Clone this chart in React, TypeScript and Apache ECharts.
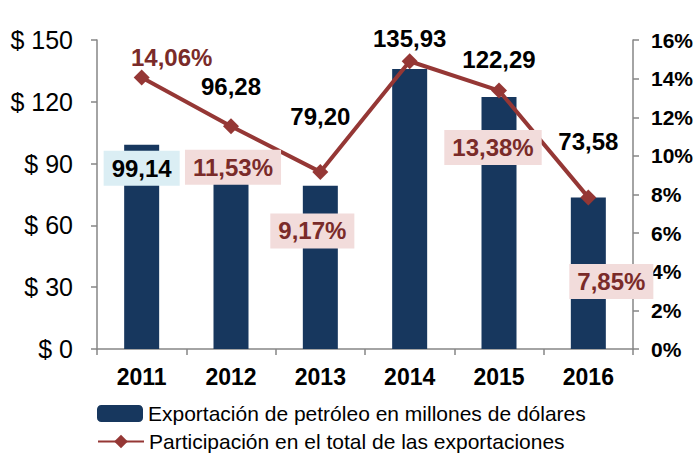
import React, { useEffect, useRef } from "react";
import * as echarts from "echarts";

const years = ["2011", "2012", "2013", "2014", "2015", "2016"];
const exportsUSD = [99.14, 96.28, 79.2, 135.93, 122.29, 73.58];
const shares = [14.06, 11.53, 9.17, 14.9, 13.38, 7.85];
const shareLabels = ["14,06%", "11,53%", "9,17%", "", "13,38%", "7,85%"];
const leftTicks = ["$ 0", "$ 30", "$ 60", "$ 90", "$ 120", "$ 150"];
const seriesNames = [
  "Exportación de petróleo en millones de dólares",
  "Participación en el total de las exportaciones",
];

// label placement (pixels)
const barLabelOffsets = [[0, 46], [0, -47], [0, -52], [0, -13], [0, -21], [0, -39]];
const lineLabelOffsets = [[30, -20], [2, 41], [-8, 59], [0, 0], [-6, 57], [23, 84]];
const lineLabelBoxed = [false, true, true, false, true, true];

const FONT = "'Liberation Sans', Arial, sans-serif";
const BAR = "#17375E";
const LINE = "#953735";
const LABEL_RED = "#7A2B29";

export default function App() {
  const ref = useRef<HTMLDivElement>(null);
  useEffect(() => {
    if (!ref.current) return;
    const chart = echarts.init(ref.current, undefined, { renderer: "svg" });
    const fmt = (v: number) => v.toFixed(2).replace(".", ",");
    const legendBase = {
      left: 97,
      itemWidth: 46,
      itemHeight: 17,
      textStyle: { fontFamily: FONT, fontSize: 21, color: "#000" },
      padding: 0,
    };
    chart.setOption({
      animation: false,
      textStyle: { fontFamily: FONT },
      grid: {
        left: 97,
        right: 62,
        top: 40,
        bottom: 108,
        containLabel: false,
        outerBoundsMode: "none",
      },
      legend: [
        { ...legendBase, top: 403, data: [seriesNames[0]] },
        { ...legendBase, top: 431, data: [seriesNames[1]] },
      ],
      xAxis: {
        type: "category",
        data: years,
        axisLine: { lineStyle: { color: "#868686", width: 1.5 } },
        axisTick: { show: true, length: 6, lineStyle: { color: "#868686", width: 1.5 } },
        axisLabel: { fontFamily: FONT, fontSize: 23, fontWeight: "bold", color: "#000", margin: 16 },
      },
      yAxis: [
        {
          type: "value",
          min: 0,
          max: 150,
          interval: 30,
          splitLine: { show: false },
          axisLine: { show: true, lineStyle: { color: "#868686", width: 1.5 } },
          axisTick: { show: true, length: 6, lineStyle: { color: "#868686", width: 1.5 } },
          axisLabel: {
            fontFamily: FONT,
            fontSize: 25,
            color: "#000",
            margin: 24,
            formatter: (v: number) => leftTicks[Math.round(v / 30)],
          },
        },
        {
          type: "value",
          min: 0,
          max: 16,
          interval: 2,
          position: "right",
          splitLine: { show: false },
          axisLine: { show: true, lineStyle: { color: "#868686", width: 1.5 } },
          axisTick: { show: true, length: 6, lineStyle: { color: "#868686", width: 1.5 } },
          axisLabel: {
            fontFamily: FONT,
            fontSize: 21,
            fontWeight: "bold",
            color: "#000",
            margin: 18,
            formatter: (v: number) => v + "%",
          },
        },
      ],
      series: [
        {
          name: seriesNames[0],
          type: "bar",
          barWidth: 35,
          itemStyle: { color: BAR },
          data: exportsUSD.map((v, i) => ({
            value: v,
            label: {
              show: true,
              position: "top",
              offset: barLabelOffsets[i],
              formatter: fmt(v),
              fontFamily: FONT,
              fontSize: 24,
              fontWeight: "bold",
              color: "#000",
              backgroundColor: i === 0 ? "#DBEEF4" : "transparent",
              padding: i === 0 ? [6, 8, 5, 8] : 0,
            },
          })),
          z: 2,
        },
        {
          name: seriesNames[1],
          type: "line",
          yAxisIndex: 1,
          symbol: "diamond",
          symbolSize: 16,
          lineStyle: { color: LINE, width: 4 },
          itemStyle: { color: LINE },
          z: 5,
          data: shares.map((v, i) => ({
            value: v,
            label: {
              show: shareLabels[i] !== "",
              position: "inside",
              offset: lineLabelOffsets[i],
              formatter: shareLabels[i],
              fontFamily: FONT,
              fontSize: 24,
              fontWeight: "bold",
              color: LABEL_RED,
              backgroundColor: lineLabelBoxed[i] ? "#F2DCDB" : "transparent",
              padding: lineLabelBoxed[i] ? [6, 8, 5, 8] : 0,
            },
          })),
        },
      ],
    });
    return () => chart.dispose();
  }, []);
  return (
    <div
      ref={ref}
      style={{ position: "absolute", left: 0, top: 0, width: 695, height: 457, background: "#fff" }}
    />
  );
}
